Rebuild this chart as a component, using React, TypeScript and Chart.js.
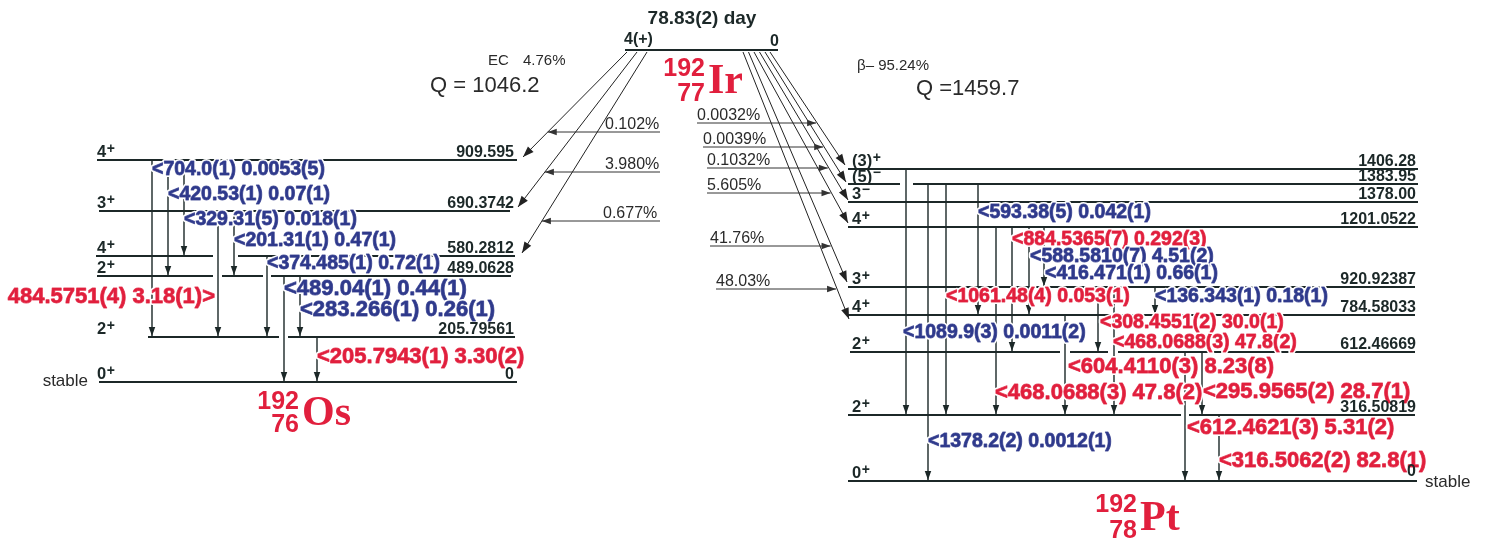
import React, { useEffect, useRef } from "react";
import { Chart, registerables } from "chart.js";

Chart.register(...registerables);

const W = 1497;
const H = 546;

// ---------------- data ----------------
const parentHalfLife = "78.83(2) day";
const parentSpin = "4(+)";
const parentLevelText = "0";
const parentSymbol = ["192", "77", "Ir"];
const osSymbol = ["192", "76", "Os"];
const ptSymbol = ["192", "78", "Pt"];
const ecBranch = ["EC", "4.76%"];
const ecQ = "Q = 1046.2";
const betaBranch = "β– 95.24%";
const betaQ = "Q =1459.7";
const stableText = "stable";

// 192Os levels (EC branch)
const osLevelEnergy = [0, 205.79561, 489.0628, 580.2812, 690.3742, 909.595];
const osLevelText = ["0", "205.79561", "489.0628", "580.2812", "690.3742", "909.595"];
const osLevelSpin = ["0+", "2+", "2+", "4+", "3+", "4+"];
const osFeeding = ["", "", "", "0.677%", "3.980%", "0.102%"];

// 192Os gamma transitions
const osGammaFrom = [909.595, 909.595, 909.595, 690.3742, 690.3742, 580.2812, 489.0628, 489.0628, 205.79561];
const osGammaTo = [205.79561, 489.0628, 580.2812, 205.79561, 489.0628, 205.79561, 0, 205.79561, 0];
const osGammaText = [
  "704.0(1) 0.0053(5)",
  "420.53(1) 0.07(1)",
  "329.31(5) 0.018(1)",
  "484.5751(4) 3.18(1)",
  "201.31(1) 0.47(1)",
  "374.485(1) 0.72(1)",
  "489.04(1) 0.44(1)",
  "283.266(1) 0.26(1)",
  "205.7943(1) 3.30(2)",
];
const osGammaRed = [false, false, false, true, false, false, false, false, true];

// 192Pt levels (beta- branch)
const ptLevelEnergy = [0, 316.50819, 612.46669, 784.58033, 920.92387, 1201.0522, 1378.0, 1383.95, 1406.28];
const ptLevelText = ["0", "316.50819", "612.46669", "784.58033", "920.92387", "1201.0522", "1378.00", "1383.95", "1406.28"];
const ptLevelSpin = ["0+", "2+", "2+", "4+", "3+", "4+", "3−", "(5)−", "(3)+"];
const ptFeeding = ["", "", "", "48.03%", "41.76%", "5.605%", "0.1032%", "0.0039%", "0.0032%"];

// 192Pt gamma transitions
const ptGammaFrom = [1406.28, 1378.0, 1378.0, 1378.0, 1201.0522, 1201.0522, 1201.0522, 1201.0522, 784.58033, 920.92387, 920.92387, 920.92387, 612.46669, 612.46669, 316.50819];
const ptGammaTo = [316.50819, 0, 316.50819, 784.58033, 316.50819, 612.46669, 784.58033, 920.92387, 316.50819, 612.46669, 316.50819, 784.58033, 0, 316.50819, 0];
const ptGammaText = [
  "1089.9(3) 0.0011(2)",
  "1378.2(2) 0.0012(1)",
  "1061.48(4) 0.053(1)",
  "593.38(5) 0.042(1)",
  "884.5365(7) 0.292(3)",
  "588.5810(7) 4.51(2)",
  "416.471(1) 0.66(1)",
  "",
  "468.0688(3) 47.8(2)",
  "308.4551(2) 30.0(1)",
  "604.4110(3) 8.23(8)",
  "136.343(1) 0.18(1)",
  "612.4621(3) 5.31(2)",
  "295.9565(2) 28.7(1)",
  "316.5062(2) 82.8(1)",
];
const ptGammaRed = [false, false, true, false, true, false, false, false, true, true, true, false, true, true, true];

// ---------------- layout (schematic positions, in page pixels) ----------------
const parentLine = { x0: 625, x1: 778, y: 50 };
const osLevelY = [382, 337, 276, 256, 211, 160];
const osLevelSegs = [
  [[99, 517]],
  [[148, 279], [288, 515]],
  [[97, 213], [222, 263], [271, 511]],
  [[96, 213], [238, 515]],
  [[99, 510]],
  [[97, 517]],
];
const ptLevelY = [481, 415, 352, 315, 287, 227, 202, 184, 169];
const ptLevelSegs = [
  [[848, 1417]],
  [[848, 1181], [1189, 1415]],
  [[850, 1060], [1070, 1108], [1118, 1415]],
  [[848, 1415]],
  [[848, 1415]],
  [[848, 1418]],
  [[848, 1418]],
  [[848, 900], [913, 1418]],
  [[848, 1418]],
];
// feeding diagonals: [startX, tipX, tipY, labelX, arrowLineY]
const osFeedLayout: Record<number, number[]> = {
  5: [627, 523, 157, 605, 132],
  4: [637, 518, 207, 605, 172],
  3: [647, 522, 253, 603, 221],
};
const osFeedLineEnd = 660;
const ptFeedLayout: Record<number, number[]> = {
  8: [770, 845, 165, 697, 123],
  7: [765, 846, 182, 703, 147],
  6: [759.5, 848, 200, 707, 168],
  5: [754, 848, 223, 707, 193],
  4: [748.5, 847, 282, 710, 246],
  3: [743, 849, 319, 716, 289],
};
const osGammaX = [152, 168, 184, 218, 234, 267, 284, 300, 317];
// [x, yCenter, size, align]
const osGammaLabel: any[] = [
  [[152, 170, "s", "l"]],
  [[168, 195, "s", "l"]],
  [[184, 220, "s", "l"]],
  [[215, 297, "L", "r"]],
  [[234, 241, "s", "l"]],
  [[267, 264, "s", "l"]],
  [[284, 289, "L", "l"]],
  [[300, 310, "L", "l"]],
  [[317, 357, "L", "l"]],
];
const ptGammaX = [906, 928, 946, 978, 996, 1012, 1029, 1044, 1065, 1098, 1114, 1155, 1185, 1202, 1219];
const ptGammaDrawFrom = [null, 1383.95, 1383.95, 1383.95, null, null, null, null, null, null, null, null, null, null, null];
const ptGammaLabel: any[] = [
  [[903, 333, "s", "l"]],
  [[928, 442, "s", "l"]],
  [[946, 297, "s", "l"]],
  [[978, 213, "s", "l"]],
  [[1012, 240, "s", "l"]],
  [[1030, 257, "s", "l"]],
  [[1045, 274, "s", "l"]],
  [],
  [[1113, 343, "s", "l"], [995, 393, "L", "l"]],
  [[1100, 323, "s", "l"]],
  [[1068, 367, "L", "l"]],
  [[1155, 297, "s", "l"]],
  [[1187, 428, "L", "l"]],
  [[1203, 392, "L", "l"]],
  [[1219, 461, "L", "l"]],
];

const RED = "#e11f3d";
const BLUE = "#2f3a8c";
const INK = "#1c2828";
const SANS = "'Liberation Sans', Arial, Helvetica, sans-serif";
const SERIF = "'Liberation Serif', 'Times New Roman', serif";

function seg(x0: number, y0: number, x1: number, y1: number, width: number, color: string, arrow = 0) {
  return {
    data: [
      { x: x0, y: y0 },
      { x: x1, y: y1 },
    ],
    showLine: true,
    borderColor: color,
    backgroundColor: color,
    borderWidth: width,
    pointRadius: 0,
    pointHoverRadius: 0,
    arrow,
  } as any;
}

function buildDatasets() {
  const ds: any[] = [];
  ds.push(seg(parentLine.x0, parentLine.y, parentLine.x1, parentLine.y, 2, INK));
  osLevelEnergy.forEach((_, i) => {
    osLevelSegs[i].forEach(([a, b]) => ds.push(seg(a, osLevelY[i], b, osLevelY[i], 2, INK)));
  });
  ptLevelEnergy.forEach((_, i) => {
    ptLevelSegs[i].forEach(([a, b]) => ds.push(seg(a, ptLevelY[i], b, ptLevelY[i], 2, INK)));
  });
  osFeeding.forEach((f, i) => {
    if (!f) return;
    const [sx, tx, ty, , ly] = osFeedLayout[i];
    const y0 = parentLine.y + 2;
    ds.push(seg(sx, y0, tx, ty, 1, "#222", 11));
    const ix = sx + ((tx - sx) * (ly - y0)) / (ty - y0);
    ds.push(seg(osFeedLineEnd, ly, ix, ly, 1, "#333", 9));
  });
  ptFeeding.forEach((f, i) => {
    if (!f) return;
    const [sx, tx, ty, lx, ly] = ptFeedLayout[i];
    const y0 = parentLine.y + 2;
    ds.push(seg(sx, y0, tx, ty, 1, "#222", 11));
    const ix = sx + ((tx - sx) * (ly - y0)) / (ty - y0);
    ds.push(seg(lx, ly, ix - 1, ly, 1, "#333", 9));
  });
  osGammaFrom.forEach((e, i) => {
    const y0 = osLevelY[osLevelEnergy.indexOf(e)];
    const y1 = osLevelY[osLevelEnergy.indexOf(osGammaTo[i])];
    ds.push(seg(osGammaX[i], y0, osGammaX[i], y1 - 1, 1.4, INK, 9));
  });
  ptGammaFrom.forEach((e, i) => {
    const startE = ptGammaDrawFrom[i] ?? e;
    const y0 = ptLevelY[ptLevelEnergy.indexOf(startE)];
    const y1 = ptLevelY[ptLevelEnergy.indexOf(ptGammaTo[i])];
    ds.push(seg(ptGammaX[i], y0, ptGammaX[i], y1 - 1, 1.4, INK, 9));
  });
  return ds;
}

function drawSpin(ctx: CanvasRenderingContext2D, text: string, x: number, y: number) {
  const m = text.match(/^(.*?)([+\-−])$/);
  const main = m ? m[1] : text;
  const sign = m ? m[2] : "";
  ctx.font = `bold 16.5px ${SANS}`;
  ctx.textAlign = "left";
  ctx.textBaseline = "alphabetic";
  ctx.fillStyle = INK;
  ctx.fillText(main, x, y);
  const w = ctx.measureText(main).width;
  ctx.font = `bold 14px ${SANS}`;
  ctx.fillText(sign, x + w + 0.5, sign === "+" ? y - 4 : y - 5);
}

function drawGammaLabel(ctx: CanvasRenderingContext2D, text: string, red: boolean, pos: any[]) {
  const [x, y, size, align] = pos;
  const fs = size === "L" ? 22 : 19.5;
  ctx.font = `bold ${fs}px ${SANS}`;
  ctx.textBaseline = "middle";
  ctx.textAlign = align === "r" ? "right" : "left";
  const t = align === "r" ? `${text}>` : `<${text}`;
  ctx.lineJoin = "round";
  ctx.strokeStyle = "#ffffff";
  ctx.lineWidth = 4;
  ctx.strokeText(t, x, y);
  ctx.fillStyle = red ? RED : BLUE;
  ctx.fillText(t, x, y);
  ctx.strokeStyle = red ? "rgba(225,31,61,0.8)" : "rgba(47,58,140,0.8)";
  ctx.lineWidth = 0.9;
  ctx.strokeText(t, x, y);
}

function drawSymbol(ctx: CanvasRenderingContext2D, sym: string[], rx: number, yA: number, yZ: number, yS: number) {
  ctx.fillStyle = RED;
  ctx.textBaseline = "alphabetic";
  ctx.textAlign = "right";
  ctx.font = `bold 25px ${SANS}`;
  ctx.fillText(sym[0], rx, yA);
  ctx.fillText(sym[1], rx, yZ);
  ctx.textAlign = "left";
  ctx.font = `bold 42px ${SERIF}`;
  ctx.fillText(sym[2], rx + 3, yS);
}

const diagramPlugin = {
  id: "decayDiagram",
  afterDatasetsDraw(chart: any) {
    const ctx: CanvasRenderingContext2D = chart.ctx;
    chart.data.datasets.forEach((d: any, i: number) => {
      if (!d.arrow) return;
      const meta = chart.getDatasetMeta(i);
      const p0 = meta.data[0];
      const p1 = meta.data[1];
      const dx = p1.x - p0.x;
      const dy = p1.y - p0.y;
      const len = Math.hypot(dx, dy) || 1;
      const ux = dx / len;
      const uy = dy / len;
      const L = d.arrow;
      const hw = L * 0.36;
      ctx.save();
      ctx.fillStyle = d.borderColor;
      ctx.beginPath();
      ctx.moveTo(p1.x, p1.y);
      ctx.lineTo(p1.x - ux * L - uy * hw, p1.y - uy * L + ux * hw);
      ctx.lineTo(p1.x - ux * L + uy * hw, p1.y - uy * L - ux * hw);
      ctx.closePath();
      ctx.fill();
      ctx.restore();
    });
  },
  afterDraw(chart: any) {
    const ctx: CanvasRenderingContext2D = chart.ctx;
    const sx = (v: number) => chart.scales.x.getPixelForValue(v);
    const sy = (v: number) => chart.scales.y.getPixelForValue(v);
    ctx.save();

    // parent
    ctx.fillStyle = INK;
    ctx.textBaseline = "alphabetic";
    ctx.textAlign = "center";
    ctx.font = `bold 19px ${SANS}`;
    ctx.fillText(parentHalfLife, sx(702), sy(24));
    ctx.textAlign = "left";
    ctx.font = `bold 16px ${SANS}`;
    ctx.fillText(parentSpin, sx(624), sy(44));
    ctx.fillText(parentLevelText, sx(770), sy(46));
    drawSymbol(ctx, parentSymbol, sx(705), sy(76), sy(101), sy(93));

    // branch info
    ctx.fillStyle = "#2a2a2a";
    ctx.font = `15px ${SANS}`;
    ctx.fillText(ecBranch[0], sx(488), sy(65));
    ctx.fillText(ecBranch[1], sx(523), sy(65));
    ctx.fillText(betaBranch, sx(857), sy(70));
    ctx.font = `22px ${SANS}`;
    ctx.fillText(ecQ, sx(430), sy(92));
    ctx.fillText(betaQ, sx(916), sy(95));

    // feeding percentages
    ctx.font = `16px ${SANS}`;
    ctx.fillStyle = "#2a2a2a";
    osFeeding.forEach((f, i) => {
      if (!f) return;
      const l = osFeedLayout[i];
      ctx.fillText(f, sx(l[3]), sy(l[4] - 3));
    });
    ptFeeding.forEach((f, i) => {
      if (!f) return;
      const l = ptFeedLayout[i];
      ctx.fillText(f, sx(l[3]), sy(l[4] - 3));
    });

    // stable
    ctx.font = `17px ${SANS}`;
    ctx.fillStyle = "#2a2a2a";
    ctx.textAlign = "right";
    ctx.fillText(stableText, sx(88), sy(386));
    ctx.textAlign = "left";
    ctx.fillText(stableText, sx(1425), sy(487));

    // gamma labels
    osGammaText.forEach((t, i) => {
      osGammaLabel[i].forEach((p: any[]) => drawGammaLabel(ctx, t, osGammaRed[i], [sx(p[0]), sy(p[1]), p[2], p[3]]));
    });
    ptGammaText.forEach((t, i) => {
      if (!t) return;
      ptGammaLabel[i].forEach((p: any[]) => drawGammaLabel(ctx, t, ptGammaRed[i], [sx(p[0]), sy(p[1]), p[2], p[3]]));
    });

    // levels text
    osLevelEnergy.forEach((_, i) => {
      drawSpin(ctx, osLevelSpin[i], sx(97), sy(osLevelY[i] - 3));
      ctx.font = `bold 16px ${SANS}`;
      ctx.textAlign = "right";
      ctx.fillStyle = INK;
      ctx.fillText(osLevelText[i], sx(514), sy(osLevelY[i] - 3));
    });
    ptLevelEnergy.forEach((_, i) => {
      drawSpin(ctx, ptLevelSpin[i], sx(852), sy(ptLevelY[i] - (i === 7 ? 2 : 3)));
      ctx.font = `bold 16px ${SANS}`;
      ctx.textAlign = "right";
      ctx.fillStyle = INK;
      ctx.fillText(ptLevelText[i], sx(1416), sy(ptLevelY[i] - (i === 0 ? 5 : 3)));
    });

    // daughter symbols
    drawSymbol(ctx, osSymbol, sx(299), sy(409), sy(432), sy(425));
    drawSymbol(ctx, ptSymbol, sx(1137), sy(512), sy(538), sy(530));

    ctx.restore();
  },
};

export default function App() {
  const ref = useRef<HTMLCanvasElement | null>(null);
  useEffect(() => {
    document.body.style.margin = "0";
    const canvas = ref.current;
    if (!canvas) return;
    const chart = new Chart(canvas, {
      type: "scatter",
      data: { datasets: buildDatasets() },
      options: {
        animation: false,
        responsive: false,
        maintainAspectRatio: false,
        devicePixelRatio: 1,
        events: [],
        layout: { padding: 0 },
        plugins: { legend: { display: false }, tooltip: { enabled: false } },
        scales: {
          x: { type: "linear", min: 0, max: W, display: false },
          y: { type: "linear", min: 0, max: H, reverse: true, display: false },
        },
      },
      plugins: [diagramPlugin],
    } as any);
    return () => chart.destroy();
  }, []);
  return (
    <div style={{ width: W, height: H, background: "#fff" }}>
      <canvas ref={ref} width={W} height={H} style={{ display: "block" }} />
    </div>
  );
}
